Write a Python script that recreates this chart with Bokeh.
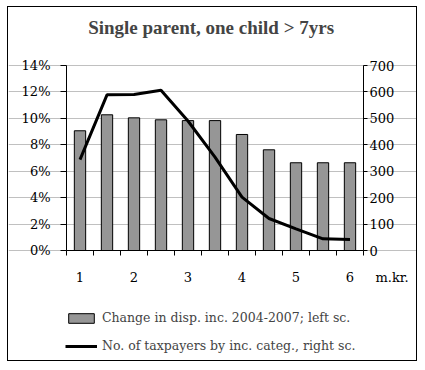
from bokeh.plotting import figure
from bokeh.models import Range1d, LinearAxis, FixedTicker, Legend, LegendItem, Label
from bokeh.embed import file_html
from bokeh.resources import INLINE

# ---- data ----
income_mkr = [1, 1.5, 2, 2.5, 3, 3.5, 4, 4.5, 5, 5.5, 6]
change_pct = [9.06, 10.27, 10.04, 9.89, 9.83, 9.83, 8.78, 7.62, 6.64, 6.64, 6.64]
taxpayers = [344, 589, 590, 606, 490, 353, 202, 121, 82, 44, 42]

left_ticks = [0, 2, 4, 6, 8, 10, 12, 14]
left_tick_labels = ["0%", "2%", "4%", "6%", "8%", "10%", "12%", "14%"]
right_ticks = [0, 100, 200, 300, 400, 500, 600, 700]
x_ticks = [1, 2, 3, 4, 5, 6]
x_tick_labels = ["1", "2", "3", "4", "5", "6"]
x_unit = "m.kr."
title_text = "Single parent, one child  > 7yrs"
bar_label = "Change in disp. inc. 2004-2007; left sc."
line_label = "No. of taxpayers by inc. categ., right sc."

FONT = "Liberation Serif"
TICKFONT = "DejaVu Serif"
BAR_FILL = "#969696"

# ---- geometry (pixels inside the bordered canvas) ----
W, H, TOP = 410, 355, 36          # canvas size, title strip height
PL, PR, PT, PB = 58, 355, 58, 243  # plot-area edges in canvas pixels
half = 0.25
boundaries = [v - half for v in income_mkr] + [income_mkr[-1] + half]
x0, x1 = boundaries[0], boundaries[-1]
y0, y1 = left_ticks[0], left_ticks[-1]
r0, r1 = right_ticks[0], right_ticks[-1]
ppx = (PR - PL) / (x1 - x0)
ppy = (PB - PT) / (y1 - y0)
ppr = (PB - PT) / (r1 - r0)

p = figure(width=W, height=H,
           x_range=Range1d(x0 - PL / ppx, x1 + (W - PR) / ppx),
           y_range=Range1d(y0 - (H - PB) / ppy, y1 + (PT - TOP) / ppy),
           output_backend="svg", toolbar_location=None,
           min_border_left=0, min_border_right=0,
           min_border_top=TOP, min_border_bottom=0)
p.styles = {"border": "1px solid black", "margin-left": "7px", "margin-top": "6px"}
p.outline_line_color = None
p.extra_y_ranges = {"right": Range1d(r0 - (H - PB) / ppr, r1 + (PT - TOP) / ppr)}

bars = p.vbar(x=income_mkr, top=change_pct, width=0.21,
              fill_color=BAR_FILL, line_color="black", line_width=1)
line = p.line(income_mkr, taxpayers, y_range_name="right",
              line_color="black", line_width=3)

p.xgrid.visible = False
p.ygrid.ticker = FixedTicker(ticks=left_ticks)
p.ygrid.bounds = (x0, x1)
p.ygrid.grid_line_color = "#c0c0c0"

# left axis
ya = p.yaxis[0]
ya.fixed_location = x0
ya.bounds = (y0, y1)
ya.ticker = FixedTicker(ticks=left_ticks)
ya.major_label_overrides = {v: s for v, s in zip(left_ticks, left_tick_labels)}
ya.major_tick_out = 6
ya.major_tick_in = 0
ya.minor_tick_line_color = None
ya.major_label_standoff = 10
ya.major_label_text_font = TICKFONT
ya.major_label_text_font_size = "13px"
ya.major_label_text_color = "black"

# right axis
ra = LinearAxis(y_range_name="right", ticker=FixedTicker(ticks=right_ticks),
                fixed_location=x1, bounds=(r0, r1))
ra.major_tick_out = 4
ra.major_tick_in = 0
ra.minor_tick_line_color = None
ra.major_label_standoff = 2
ra.major_label_text_font = TICKFONT
ra.major_label_text_font_size = "13px"
ra.major_label_text_color = "black"
p.add_layout(ra, "right")

# bottom axis
xa = p.xaxis[0]
xa.fixed_location = y0
xa.bounds = (x0, x1)
xa.ticker = FixedTicker(ticks=x_ticks, minor_ticks=boundaries)
xa.major_label_overrides = {v: s for v, s in zip(x_ticks, x_tick_labels)}
xa.major_tick_out = 0
xa.major_tick_in = 0
xa.major_tick_line_color = None
xa.minor_tick_out = 5
xa.minor_tick_in = 0
xa.minor_tick_line_color = "black"
xa.major_label_standoff = 16
xa.major_label_text_font = TICKFONT
xa.major_label_text_font_size = "13px"
xa.major_label_text_color = "black"

unit = Label(x=x1, y=y0, x_offset=12, y_offset=-27, text=x_unit,
             text_font=TICKFONT, text_font_size="13px",
             text_baseline="middle", text_align="left", text_color="black")
p.add_layout(unit)

# title
p.title.text = title_text
p.title.text_font = FONT
p.title.text_font_style = "bold"
p.title.text_font_size = "19px"
p.title.align = "center"
p.title.standoff = 12

legend = Legend(items=[LegendItem(label=bar_label, renderers=[bars]),
                       LegendItem(label=line_label, renderers=[line])],
                location=(PL - 1, 9), orientation="vertical",
                padding=0, margin=0, spacing=13,
                glyph_width=32, glyph_height=12, label_height=15,
                label_standoff=5,
                label_text_font=TICKFONT, label_text_font_size="12.5px",
                border_line_color=None, background_fill_alpha=0)
p.add_layout(legend)

open("out.html", "w").write(file_html(p, INLINE))
